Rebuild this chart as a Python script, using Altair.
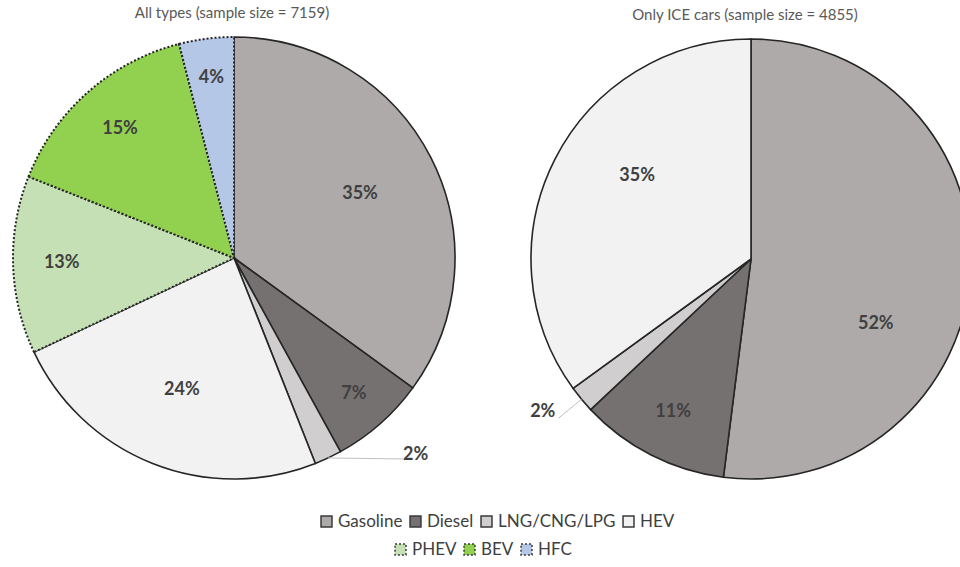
import math
import altair as alt
import pandas as pd

# Powertrain categories and their shares (%)
types = ["Gasoline", "Diesel", "LNG/CNG/LPG", "HEV", "PHEV", "BEV", "HFC"]
all_types_share = [35, 7, 2, 24, 13, 15, 4]
ice_share = [52, 11, 2, 35]

ice_types = types[:4]
ev_types = types[4:]
ice_colors = ["#aeaaaa", "#767171", "#d0cece", "#f2f2f2"]
ev_colors = ["#c5e0b4", "#92d050", "#b4c7e7"]

titles = ["All types (sample size = 7159)", "Only ICE  cars (sample size = 4855)"]

rows = []
for i, (t, s) in enumerate(zip(types, all_types_share)):
    rows.append(dict(pie="all", type=t, share=s, order=i,
                     group="ice" if t in ice_types else "ev"))
for i, (t, s) in enumerate(zip(ice_types, ice_share)):
    rows.append(dict(pie="ice", type=t, share=s, order=i, group="ice"))
df = pd.DataFrame(rows)

FONT = "Lato"
TXT = "#404040"
EDGE = "#262626"

# pie geometry: centre x, centre y, radius (px)
geom = {"all": (234, 258, 221), "ice": (751, 259, 220)}

# label placement tweaks (extra rotation in degrees) for the big ICE slices
label_turn = {"ice": "datum.type == 'Gasoline' ? 24 : datum.type == 'HEV' ? 9 : 0",
              "all": "0"}

theta_scale = alt.Scale(domain=[0, 100], range=[0, 2 * math.pi])

legend_common = dict(
    title=None, orient="none", direction="horizontal", symbolType="square",
    symbolSize=120, symbolStrokeColor="#3a3a3a", symbolStrokeWidth=1.5,
    labelFont=FONT, labelFontSize=17, labelColor=TXT, labelOffset=3,
    columnPadding=4, padding=0,
)
legend_ice = alt.Legend(legendX=318, legendY=513, **legend_common)
legend_ev = alt.Legend(legendX=392, legendY=541, symbolDash=[2, 2], **legend_common)

base = (
    alt.Chart(df)
    .transform_window(cum="sum(share)", groupby=["pie"],
                      sort=[alt.SortField("order")], frame=[None, 0])
    .transform_calculate(
        start="datum.cum - datum.share",
        mid="datum.cum - datum.share / 2",
        lbl="datum.share + '%'",
    )
)

layers = []
for p, (cx, cy, R) in geom.items():
    pie = base.transform_filter(f"datum.pie == '{p}'")
    theta_enc = dict(
        x=alt.value(cx), y=alt.value(cy),
        theta=alt.Theta("start:Q", stack=None, scale=theta_scale),
        theta2=alt.Theta2("cum:Q"),
    )
    layers.append(
        pie.transform_filter("datum.group == 'ice'")
        .mark_arc(outerRadius=R, stroke=EDGE, strokeWidth=1.6, clip=True)
        .encode(color=alt.Color("type:N", scale=alt.Scale(domain=ice_types, range=ice_colors),
                                legend=legend_ice), **theta_enc)
    )
    if p == "all":
        layers.append(
            pie.transform_filter("datum.group == 'ev'")
            .mark_arc(outerRadius=R, stroke=EDGE, strokeWidth=2, strokeDash=[2, 2], clip=True)
            .encode(fill=alt.Fill("type:N", scale=alt.Scale(domain=ev_types, range=ev_colors),
                                  legend=legend_ev), **theta_enc)
        )

    # percentage labels inside the slices
    layers.append(
        pie.transform_filter("datum.share >= 3")
        .transform_calculate(
            ang=f"datum.mid / 100 * 2 * PI + ({label_turn[p]}) * PI / 180",
            lr=f"datum.share >= 20 ? {R * 0.64} : datum.share >= 10 ? {R * 0.78} : {R * 0.82}",
        )
        .transform_calculate(
            lx=f"{cx} + datum.lr * sin(datum.ang)",
            ly=f"{cy} - datum.lr * cos(datum.ang)",
        )
        .mark_text(font=FONT, fontSize=18, fontWeight="bold", color=TXT)
        .encode(x=alt.X("lx:Q", scale=None), y=alt.Y("ly:Q", scale=None), text="lbl:N")
    )

    # small slices: label outside with a leader line
    small = pie.transform_filter("datum.share < 3").transform_calculate(
        ang="datum.mid / 100 * 2 * PI"
    ).transform_calculate(
        ax=f"{cx} + {R} * sin(datum.ang)",
        ay=f"{cy} - {R} * cos(datum.ang)",
    )
    if p == "all":
        small = small.transform_calculate(bx="datum.ax + 75", by="datum.ay + 1",
                                          tx="datum.ax + 75", ty="datum.ay - 3")
        align = "left"
    else:
        small = small.transform_calculate(
            bx=f"{cx} + {R + 30} * sin(datum.ang)",
            by=f"{cy} - {R + 30} * cos(datum.ang)",
        ).transform_calculate(tx="datum.bx - 3", ty="datum.by - 6")
        align = "right"
    layers.append(
        small.mark_rule(color="#c0c0c0", strokeWidth=1).encode(
            x=alt.X("ax:Q", scale=None), y=alt.Y("ay:Q", scale=None),
            x2="bx:Q", y2="by:Q")
    )
    layers.append(
        small.mark_text(font=FONT, fontSize=18, fontWeight="bold", color=TXT, align=align)
        .encode(x=alt.X("tx:Q", scale=None), y=alt.Y("ty:Q", scale=None), text="lbl:N")
    )

# panel titles
for t, (cx, ty) in zip(titles, [(232, 13), (745, 15)]):
    layers.append(
        alt.Chart(pd.DataFrame({"t": [t]}))
        .mark_text(font=FONT, fontSize=15, color="#595959")
        .encode(x=alt.value(cx), y=alt.value(ty), text="t:N")
    )

chart = (
    alt.layer(*layers)
    .properties(width=960, height=567, autosize="none", padding=0, background="white")
    .configure_view(stroke=None)
)

chart.save("out.html", embed_options={"renderer": "svg", "actions": False})
